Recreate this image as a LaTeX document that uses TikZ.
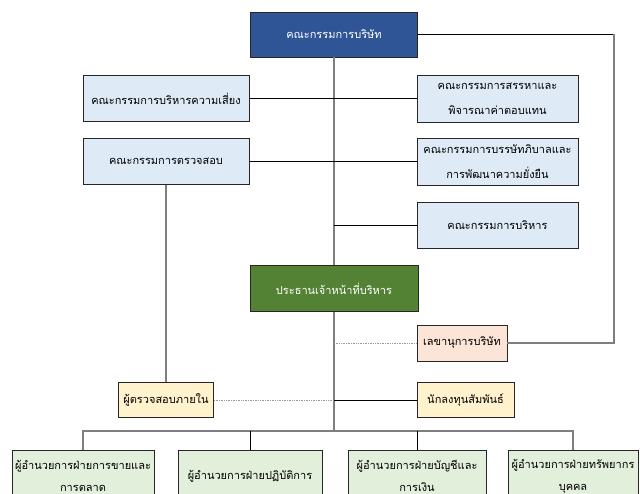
\documentclass[tikz,border=0pt]{standalone}
\usepackage{fontspec}
\newfontfamily\thai[Script=Thai]{Loma}
\definecolor{topblue}{HTML}{2F5597}
\definecolor{combox}{HTML}{DEEBF7}
\definecolor{ceogreen}{HTML}{548235}
\definecolor{secfill}{HTML}{FCE4D6}
\definecolor{yelfill}{HTML}{FFF2CC}
\definecolor{divfill}{HTML}{E2EFDA}
\definecolor{linegray}{HTML}{7F7F7F}
\begin{document}
\begin{tikzpicture}[x=1pt,y=-1pt,
  box/.style={draw=black!85, line width=0.9pt, align=center, inner sep=0pt,
    font=\thai\fontsize{11}{25}\selectfont},
  divbox/.style={box, fill=divfill, minimum height=52,
    font=\thai\fontsize{11}{22}\selectfont},
  conn/.style={draw=black, line width=0.8pt},
  vline/.style={draw=linegray, line width=1.3pt},
  dotl/.style={draw=black!40, line width=0.7pt, densely dotted}]
\useasboundingbox (0,0) rectangle (640,494);
\clip (0,0) rectangle (640,494);
% nodes
\node[box, fill=topblue, text=white, minimum width=167, minimum height=45] (top) at (334,34.5) {คณะกรรมการบริษัท};
\node[box, fill=combox, minimum width=166, minimum height=46] (L1) at (166,98.5) {คณะกรรมการบริหารความเสี่ยง};
\node[box, fill=combox, minimum width=166, minimum height=46] (L2) at (166,161.5) {คณะกรรมการตรวจสอบ};
\node[box, fill=combox, minimum width=161, minimum height=47] (R1) at (497.5,98.5) {คณะกรรมการสรรหาและ\\พิจารณาค่าตอบแทน};
\node[box, fill=combox, minimum width=161, minimum height=47] (R2) at (497.5,161.5) {คณะกรรมการบรรษัทภิบาลและ\\การพัฒนาความยั่งยืน};
\node[box, fill=combox, minimum width=161, minimum height=46] (R3) at (497.5,225) {คณะกรรมการบริหาร};
\node[box, fill=ceogreen, text=white, minimum width=168, minimum height=46] (ceo) at (334,288.5) {ประธานเจ้าหน้าที่บริหาร};
\node[box, fill=secfill, minimum width=90, minimum height=36] (sec) at (462,343) {เลขานุการบริษัท};
\node[box, fill=yelfill, minimum width=95, minimum height=35] (ia) at (166,400) {ผู้ตรวจสอบภายใน};
\node[box, fill=yelfill, minimum width=97, minimum height=35] (ir) at (465.5,400) {นักลงทุนสัมพันธ์};
\node[divbox, minimum width=142] (b1) at (83,476) {ผู้อำนวยการฝ่ายการขายและ\\การตลาด};
\node[divbox, minimum width=144] (b2) at (250,476) {ผู้อำนวยการฝ่ายปฏิบัติการ};
\node[divbox, minimum width=138] (b3) at (417,476) {ผู้อำนวยการฝ่ายบัญชีและ\\การเงิน};
\node[divbox, minimum width=130] (b4) at (573,476) {ผู้อำนวยการฝ่ายทรัพยากร\\บุคคล};
\coordinate (rt) at (614,34.5);
\coordinate (rb) at (614,343);
\coordinate (bus) at (334,431);
% connectors
\draw[vline] (top.south) -- (ceo.north);
\draw[vline] (ceo.south) -- (bus);
\draw[conn] (L1.east) -- (L1.east -| top.south);
\draw[conn] (L2.east) -- (L2.east -| top.south);
\draw[conn] (R1.west) -- (R1.west -| top.south);
\draw[conn] (R2.west) -- (R2.west -| top.south);
\draw[conn] (R3.west) -- (R3.west -| top.south);
\draw[vline] (L2.south) -- (ia.north);
\draw[conn] (top.east) -- (rt);
\draw[vline] (rt) -- (rb) -- (sec.east);
\draw[dotl] (sec.west -| ceo.south) -- (sec.west);
\draw[dotl] (ia.east) -- (ia.east -| bus);
\draw[conn] (ir.west) -- (ir.west -| bus);
\draw[vline] (b1.north) -- (b1.north |- bus) -- (b4.north |- bus) -- (b4.north);
\draw[conn] (b2.north) -- (b2.north |- bus);
\draw[conn] (b3.north) -- (b3.north |- bus);
\end{tikzpicture}
\end{document}
